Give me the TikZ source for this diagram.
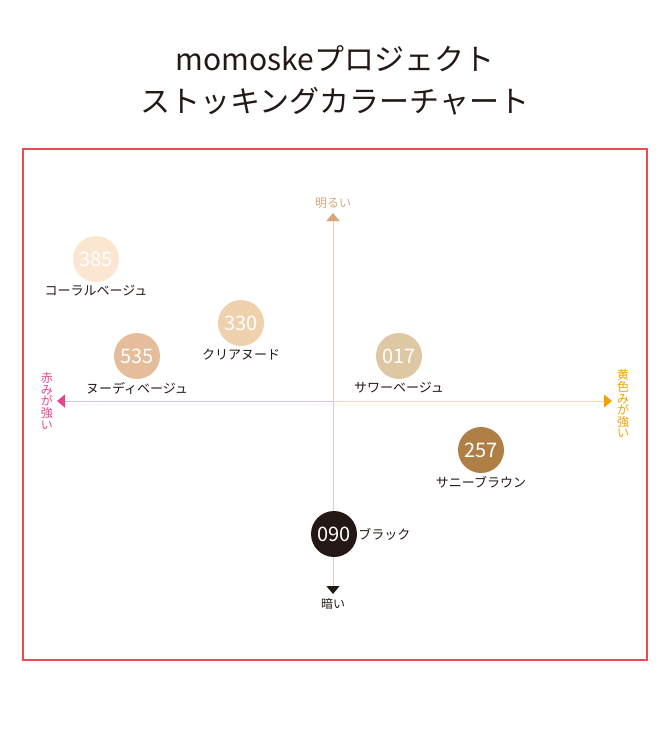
\documentclass[tikz,border=0pt]{standalone}
\usepackage{fontspec}
\setmainfont{Noto Sans CJK JP}
\usetikzlibrary{positioning,arrows.meta}
\definecolor{framered}{HTML}{EB4B55}
\definecolor{inkblack}{HTML}{231815}
\definecolor{tanc}{HTML}{D9A67B}
\definecolor{pinkc}{HTML}{E4468E}
\definecolor{orangec}{HTML}{F2A100}
\definecolor{tanline}{HTML}{EDCFC0}
\definecolor{greyline}{HTML}{CFCFCF}
\definecolor{pinkline}{HTML}{F5B8D2}
\definecolor{orangeline}{HTML}{F8D7A4}
\definecolor{c385}{HTML}{FBE6D2}
\definecolor{c330}{HTML}{EFD1AE}
\definecolor{c535}{HTML}{E6BD9A}
\definecolor{c017}{HTML}{DEC7A3}
\definecolor{c257}{HTML}{B07F45}
\begin{document}
\begin{tikzpicture}[x=1pt,y=-1pt,
	swatch/.style={circle,minimum size=46pt,inner sep=0pt,text=white,fill=#1,font=\fontsize{20}{20}\selectfont},
	lbl/.style={inner sep=0pt,text=inkblack,font=\fontsize{13}{13}\selectfont},
	axislbl/.style={inner sep=0pt,font=\fontsize{12}{11.6}\selectfont,align=center},
	axtip/.style={line width=1pt,-{Triangle[width=13pt,length=8pt,color=#1]}}]
	\useasboundingbox (0,0) rectangle (670,740);
	\node[font=\fontsize{30}{42}\selectfont,align=center,text=inkblack] (title) at (335,80) {momoskeプロジェクト\\ストッキングカラーチャート};
	\draw[framered,line width=1.5pt] (23,149) rectangle (647,660);
	\coordinate (o) at (333,401);
	\coordinate (n) at (333,213);
	\coordinate (s) at (333,594);
	\coordinate (w) at (57,401);
	\coordinate (e) at (612,401);
	\draw[axtip=tanc,tanline] (o)--(n);
	\draw[axtip=inkblack,greyline] (o)--(s);
	\draw[axtip=pinkc,pinkline] (o)--(w);
	\draw[axtip=orangec,orangeline] (o)--(e);
	\node[axislbl,text=tanc,above=4pt of n] (light) {明るい};
	\node[axislbl,text=inkblack,below=4pt of s] (dark) {暗い};
	\node[axislbl,text=pinkc,left=4pt of w] (red) {赤\\み\\が\\強\\い};
	\node[axislbl,text=orangec,right=5pt of e,yshift=-3pt] (yellow) {黄\\色\\み\\が\\強\\い};
	\node[swatch=c385] (s385) at (96,259) {385};
	\node[swatch=c330] (s330) at (241,323) {330};
	\node[swatch=c535] (s535) at (137,356) {535};
	\node[swatch=c017] (s017) at (399,356) {017};
	\node[swatch=c257] (s257) at (481,450) {257};
	\node[swatch=inkblack] (s090) at (334,534) {090};
	\node[lbl,below=3pt of s385] (l385) {コーラルベージュ};
	\node[lbl,below=3pt of s330] (l330) {クリアヌード};
	\node[lbl,below=3pt of s535] (l535) {ヌーディベージュ};
	\node[lbl,below=3pt of s017] (l017) {サワーベージュ};
	\node[lbl,below=3pt of s257] (l257) {サニーブラウン};
	\node[lbl,right=1pt of s090] (l090) {ブラック};
\end{tikzpicture}
\end{document}
